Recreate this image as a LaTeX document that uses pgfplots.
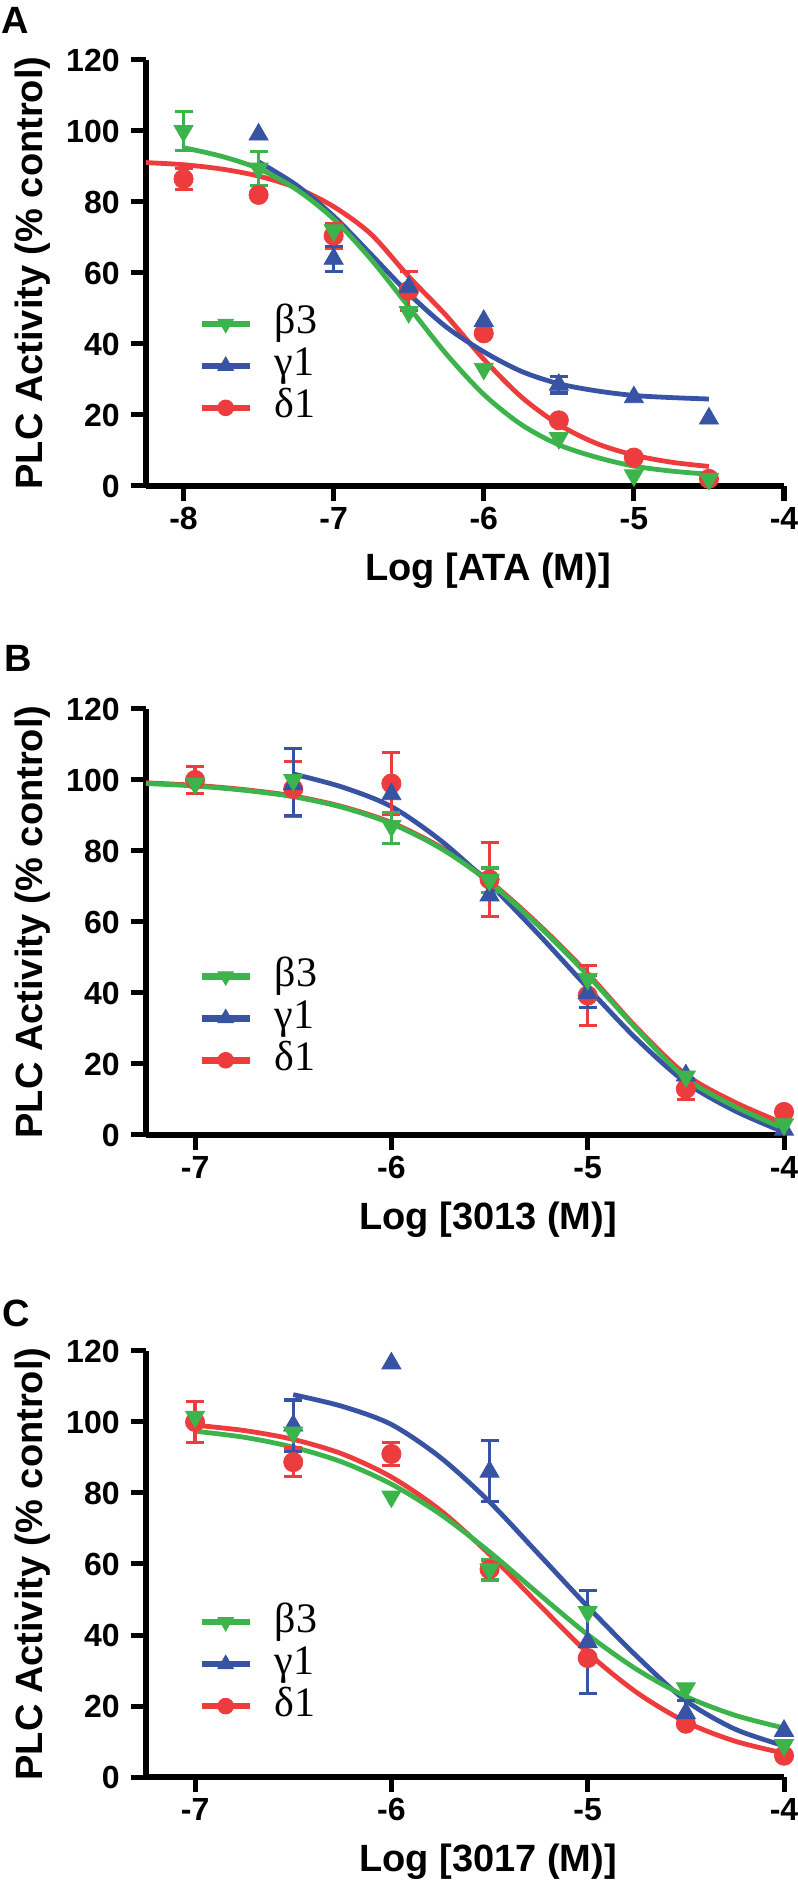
\documentclass[border=0pt]{standalone}
\usepackage{pgfplots}
\pgfplotsset{compat=1.18}
\usepackage{fontspec}
\setmainfont{Liberation Sans}
\newfontfamily\legfont{Liberation Serif}
\definecolor{cg}{RGB}{60,180,75}
\definecolor{cb}{RGB}{56,83,164}
\definecolor{cr}{RGB}{237,60,62}

\pgfplotsset{
  panel/.style={
    scale only axis, width=319pt, height=213pt,
    ymin=0, ymax=120, xmax=-4, clip=false,
    axis lines=left,
    axis line style={line width=3.3pt, -},
    tick align=outside, major tick length=7.5pt,
    every tick/.style={line width=2.5pt, black},
    ytick={0,20,40,60,80,100,120},
    yticklabels={0,20,40,60,80,100,120},
    ticklabel style={font=\bfseries\fontsize{16}{16}\selectfont},
    yticklabel style={inner xsep=5.5pt},
    xticklabel style={inner ysep=3pt},
    label style={font=\bfseries\fontsize{19}{19}\selectfont},
    xlabel style={at={(axis description cs:0.536,-0.2)}, anchor=center},
    ylabel={PLC Activity (\% control)},
    ylabel style={at={(axis description cs:-0.177,0.5)}, anchor=center},
    legend cell align=left,
    legend style={draw=none, fill=none, anchor=west, inner sep=0pt,
      font=\legfont\fontsize{21}{21}\selectfont,
      row sep=2pt, column sep=0pt,
      nodes={inner ysep=0pt, inner xsep=0pt, text height=14.5pt, text depth=4.5pt}},
    legend image code/.code={\draw[mark repeat=2,mark phase=2,line width=3.3pt] plot coordinates {(0pt,0pt) (12pt,0pt) (24pt,0pt)}; \path (35pt,0pt);},
  },
  gcurve/.style={cg, line width=2.4pt, smooth, mark=none},
  bcurve/.style={cb, line width=2.4pt, smooth, mark=none},
  rcurve/.style={cr, line width=2.4pt, smooth, mark=none},
  gmark/.style={cg, only marks, mark=triangle*, mark size=5.5pt, mark options={rotate=180, fill=cg, draw=cg}},
  bmark/.style={cb, only marks, mark=triangle*, mark size=5.5pt, mark options={fill=cb, draw=cb}},
  rmark/.style={cr, only marks, mark=*, mark size=4.8pt, mark options={fill=cr, draw=cr}},
  gleg/.style={cg, line width=3.3pt, mark=triangle*, mark size=4.4pt, mark options={rotate=180, fill=cg, line width=0.5pt}},
  bleg/.style={cb, line width=3.3pt, mark=triangle*, mark size=4.4pt, mark options={fill=cb, line width=0.5pt}},
  rleg/.style={cr, line width=3.3pt, mark=*, mark size=3.9pt, mark options={fill=cr, line width=0.5pt}},
  ebar/.style={#1, only marks, mark=none, forget plot,
    error bars/.cd, y dir=both, y explicit,
    error bar style={line width=1.6pt, #1, solid},
    error mark options={rotate=90, mark size=4.5pt, line width=1.6pt, #1}},
}

\begin{document}
\begin{tikzpicture}
\path[use as bounding box] (0,0) rectangle (399pt,943pt);

\node[font=\bfseries\fontsize{19}{19}\selectfont] at (7.5pt,933pt) {A};
\node[font=\bfseries\fontsize{19}{19}\selectfont] at (9pt,613.75pt) {B};
\node[font=\bfseries\fontsize{19}{19}\selectfont] at (8pt,286.5pt) {C};

% ---------------- Panel A ----------------
\begin{axis}[panel, at={(73pt,700pt)}, anchor=south west,
  xmin=-8.25, xtick={-8,-7,-6,-5,-4}, xticklabels={-8,-7,-6,-5,-4},
  xlabel={Log [ATA (M)]},
  legend style={at={(axis description cs:0.0815,0.282)}}]
\addlegendimage{gleg}
\addlegendentry{β3}
\addlegendimage{bleg}
\addlegendentry{γ1}
\addlegendimage{rleg}
\addlegendentry{δ1}
\addplot[rcurve, forget plot] coordinates {(-8.25,91.1) (-8,90.5) (-7.75,89.3) (-7.5,87.3) (-7.25,84.0) (-7,78.7) (-6.75,70.9) (-6.5,59) (-6.25,48) (-6,35.7) (-5.75,25.1) (-5.5,17.3) (-5.25,12) (-5,8.7) (-4.75,6.7) (-4.5,5.5)};
\addplot[bcurve, forget plot] coordinates {(-7.5,91.3) (-7.25,84.8) (-7,76.0) (-6.75,65.2) (-6.5,54.2) (-6.25,44.8) (-6,37.8) (-5.75,32.3) (-5.5,28.8) (-5.25,26.8) (-5,25.5) (-4.75,24.9) (-4.5,24.5)};
\addplot[gcurve, forget plot] coordinates {(-8,95.3) (-7.75,92.9) (-7.5,89.4) (-7.25,83.6) (-7,75.2) (-6.75,63.8) (-6.5,50.5) (-6.25,37.2) (-6,25.8) (-5.75,17.3) (-5.5,11.6) (-5.25,8.1) (-5,5.6) (-4.75,4.2) (-4.5,3.3)};
\addplot[ebar=cr] coordinates {(-8,86.5) +- (0,3) (-7,70.5) +- (0,3.5) (-6.5,55) +- (0,5.5)};
\addplot[ebar=cb] coordinates {(-7,64) +- (0,3.5) (-5.5,28.5) +- (0,2.3)};
\addplot[ebar=cg] coordinates {(-8,100) +- (0,5.5) (-7.5,89.4) +- (0,4.8)};
\addplot[rmark, forget plot] coordinates {(-8,86.5) (-7.5,82) (-7,70.5) (-6.5,55) (-6,43) (-5.5,18.5) (-5,8) (-4.5,2)};
\addplot[bmark, forget plot] coordinates {(-7.5,99) (-7,64) (-6.5,56) (-6,46.5) (-5.5,28.5) (-5,25) (-4.5,19)};
\addplot[gmark, forget plot] coordinates {(-8,100) (-7.5,89.4) (-7,72) (-6.5,49) (-6,33) (-5.5,13.5) (-5,3) (-4.5,2)};
\end{axis}

% ---------------- Panel B ----------------
\begin{axis}[panel, at={(73pt,375.5pt)}, anchor=south west,
  xmin=-7.25, xtick={-7,-6,-5,-4}, xticklabels={-7,-6,-5,-4},
  xlabel={Log [3013 (M)]},
  legend style={at={(axis description cs:0.0815,0.274)}}]
\addlegendimage{gleg}
\addlegendentry{β3}
\addlegendimage{bleg}
\addlegendentry{γ1}
\addlegendimage{rleg}
\addlegendentry{δ1}
\addplot[rcurve, forget plot] coordinates {(-7.25,99.2) (-7,98.5) (-6.75,97.3) (-6.5,95.5) (-6.25,92.5) (-6,88.0) (-5.75,81.1) (-5.5,71.5) (-5.25,59.3) (-5,45.5) (-4.75,30.2) (-4.5,17) (-4.25,9.2) (-4,3.2)};
\addplot[bcurve, forget plot] coordinates {(-6.5,101.7) (-6.25,98) (-6,92.5) (-5.75,83) (-5.5,70.7) (-5.25,56.5) (-5,41.5) (-4.75,27) (-4.5,14.8) (-4.25,6.8) (-4,0.8)};
\addplot[gcurve, forget plot] coordinates {(-7.25,99.0) (-7,98.3) (-6.75,97.1) (-6.5,95.3) (-6.25,92.3) (-6,87.7) (-5.75,80.8) (-5.5,71.2) (-5.25,58.9) (-5,45) (-4.75,29.8) (-4.5,16) (-4.25,8) (-4,1.8)};
\addplot[ebar=cr] coordinates {(-7,100) +- (0,3.7) (-6.5,97.5) +- (0,7.7) (-6,99) +- (0,8.7) (-5.5,72) +- (0,10.5) (-5,39.3) +- (0,8.4) (-4.5,13) +- (0,3)};
\addplot[ebar=cb] coordinates {(-6.5,99.5) +- (0,9.4) (-5,40.5) +- (0,4.5)};
\addplot[ebar=cg] coordinates {(-6,86.5) +- (0,4.4) (-5.5,71.8) +- (0,3.4)};
\addplot[rmark, forget plot] coordinates {(-7,100) (-6.5,97.5) (-6,99) (-5.5,72) (-5,39.3) (-4.5,13) (-4,6.5)};
\addplot[bmark, forget plot] coordinates {(-6.5,98.8) (-6,96) (-5.5,67.5) (-5,40) (-4.5,16.8) (-4,1.5)};
\addplot[gmark, forget plot] coordinates {(-7,99) (-6.5,100) (-6,87) (-5.5,71.8) (-5,44) (-4.5,16.5) (-4,3)};
\end{axis}

% ---------------- Panel C ----------------
\begin{axis}[panel, at={(73pt,54.5pt)}, anchor=south west,
  xmin=-7.25, xtick={-7,-6,-5,-4}, xticklabels={-7,-6,-5,-4},
  xlabel={Log [3017 (M)]},
  legend style={at={(axis description cs:0.0815,0.265)}}]
\addlegendimage{gleg}
\addlegendentry{β3}
\addlegendimage{bleg}
\addlegendentry{γ1}
\addlegendimage{rleg}
\addlegendentry{δ1}
\addplot[rcurve, forget plot] coordinates {(-7,99.1) (-6.75,97.6) (-6.5,95.1) (-6.25,91.0) (-6,84.5) (-5.75,75.1) (-5.5,62.7) (-5.25,48.7) (-5,35) (-4.75,23.8) (-4.5,15.5) (-4.25,10.1) (-4,6.7)};
\addplot[bcurve, forget plot] coordinates {(-6.5,107.7) (-6.25,104.4) (-6,99.3) (-5.75,90) (-5.5,77.5) (-5.25,62.8) (-5,48) (-4.75,34) (-4.5,21.5) (-4.25,13.5) (-4,8.8)};
\addplot[gcurve, forget plot] coordinates {(-7,97.4) (-6.75,95.7) (-6.5,92.9) (-6.25,88.7) (-6,82.5) (-5.75,74.0) (-5.5,63.4) (-5.25,51.6) (-5,40.1) (-4.75,30.3) (-4.5,22.7) (-4.25,17.4) (-4,13.8)};
\addplot[ebar=cr] coordinates {(-7,100) +- (0,5.8) (-6.5,88.7) +- (0,4) (-6,91) +- (0,3.2)};
\addplot[ebar=cb] coordinates {(-6.5,99) +- (0,7.2) (-5.5,86.2) +- (0,8.5) (-5,38) +- (0,14.5) (-4.5,18) +- (0,3.5)};
\addplot[ebar=cg] coordinates {(-5.5,58.3) +- (0,2.8)};
\addplot[rmark, forget plot] coordinates {(-7,100) (-6.5,88.7) (-6,91) (-5.5,58.5) (-5,33.5) (-4.5,15) (-4,6)};
\addplot[bmark, forget plot] coordinates {(-6.5,99) (-6,116.5) (-5.5,86) (-5,38) (-4.5,18) (-4,13)};
\addplot[gmark, forget plot] coordinates {(-7,101.5) (-6.5,97) (-6,79) (-5.5,58.5) (-5,46.5) (-4.5,25) (-4,9)};
\end{axis}
\end{tikzpicture}
\end{document}
